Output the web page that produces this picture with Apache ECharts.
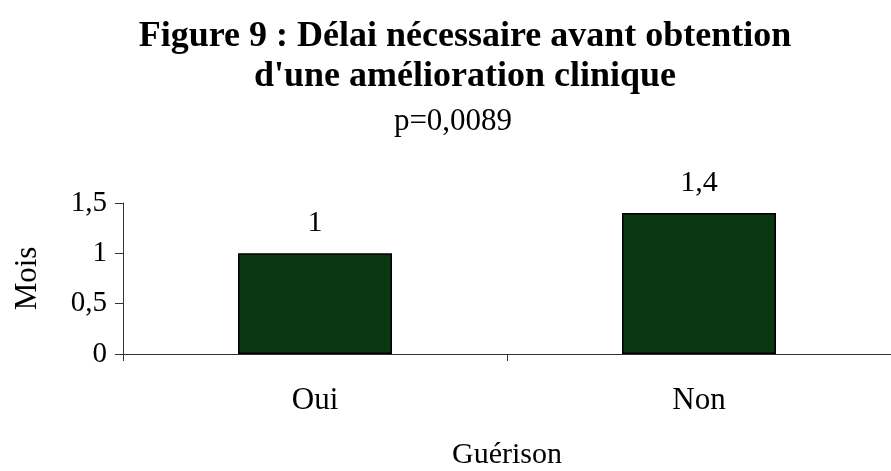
<!DOCTYPE html>
<html><head><meta charset="utf-8">
<script src="https://cdn.jsdelivr.net/npm/echarts@6/dist/echarts.min.js"></script>
<style>html,body{margin:0;padding:0;background:#fff}#c{width:891px;height:471px}</style>
</head><body><div id="c"></div>
<script>
const categories = ['Oui', 'Non'];
const values = [1, 1.4];
const yTicks = { min: 0, max: 1.5, interval: 0.5 };
const titleLines = ["Figure 9 : Délai nécessaire avant obtention", "d'une amélioration clinique"];
const subtitle = 'p=0,0089';
const yName = 'Mois';
const xName = 'Guérison';

const serif = '"Liberation Serif", "Times New Roman", serif';
const fmt = v => String(v).replace('.', ',');
const chart = echarts.init(document.getElementById('c'));
chart.setOption({
  animation: false,
  backgroundColor: '#fff',
  title: [
    { text: titleLines.join('\n'), left: 460, top: 12, textAlign: 'center',
      textStyle: { fontFamily: serif, fontWeight: 'bold', fontSize: 36, lineHeight: 40, color: '#000' } },
    { text: subtitle, left: 448, top: 101, textAlign: 'center',
      textStyle: { fontFamily: serif, fontWeight: 'normal', fontSize: 31, color: '#000' } }
  ],
  grid: { left: 123, top: 203, width: 776, height: 151, containLabel: false },
  xAxis: {
    type: 'category', data: categories,
    name: xName, nameLocation: 'middle', nameGap: 86,
    nameTextStyle: { fontFamily: serif, fontSize: 30, color: '#000' },
    axisLine: { lineStyle: { color: '#333', width: 1 } },
    axisTick: { show: true, length: 7, lineStyle: { color: '#333' } },
    axisLabel: { fontFamily: serif, fontSize: 31, color: '#000', margin: 31 }
  },
  yAxis: {
    type: 'value', min: yTicks.min, max: yTicks.max, interval: yTicks.interval,
    name: yName, nameLocation: 'middle', nameGap: 80, nameRotate: 90,
    nameTextStyle: { fontFamily: serif, fontSize: 31, color: '#000' },
    axisLine: { show: true, lineStyle: { color: '#333', width: 1 } },
    axisTick: { show: true, length: 8, lineStyle: { color: '#333' } },
    splitLine: { show: false },
    axisLabel: { fontFamily: serif, fontSize: 29, color: '#000', margin: 16, formatter: fmt }
  },
  series: [{
    type: 'bar', data: values, barWidth: 154,
    itemStyle: { color: '#0a3811', borderColor: '#000', borderWidth: 1.5 },
    label: { show: true, position: 'top', distance: 15, fontFamily: serif, fontSize: 30, color: '#000', formatter: p => fmt(p.value) }
  }]
});
</script></body></html>
